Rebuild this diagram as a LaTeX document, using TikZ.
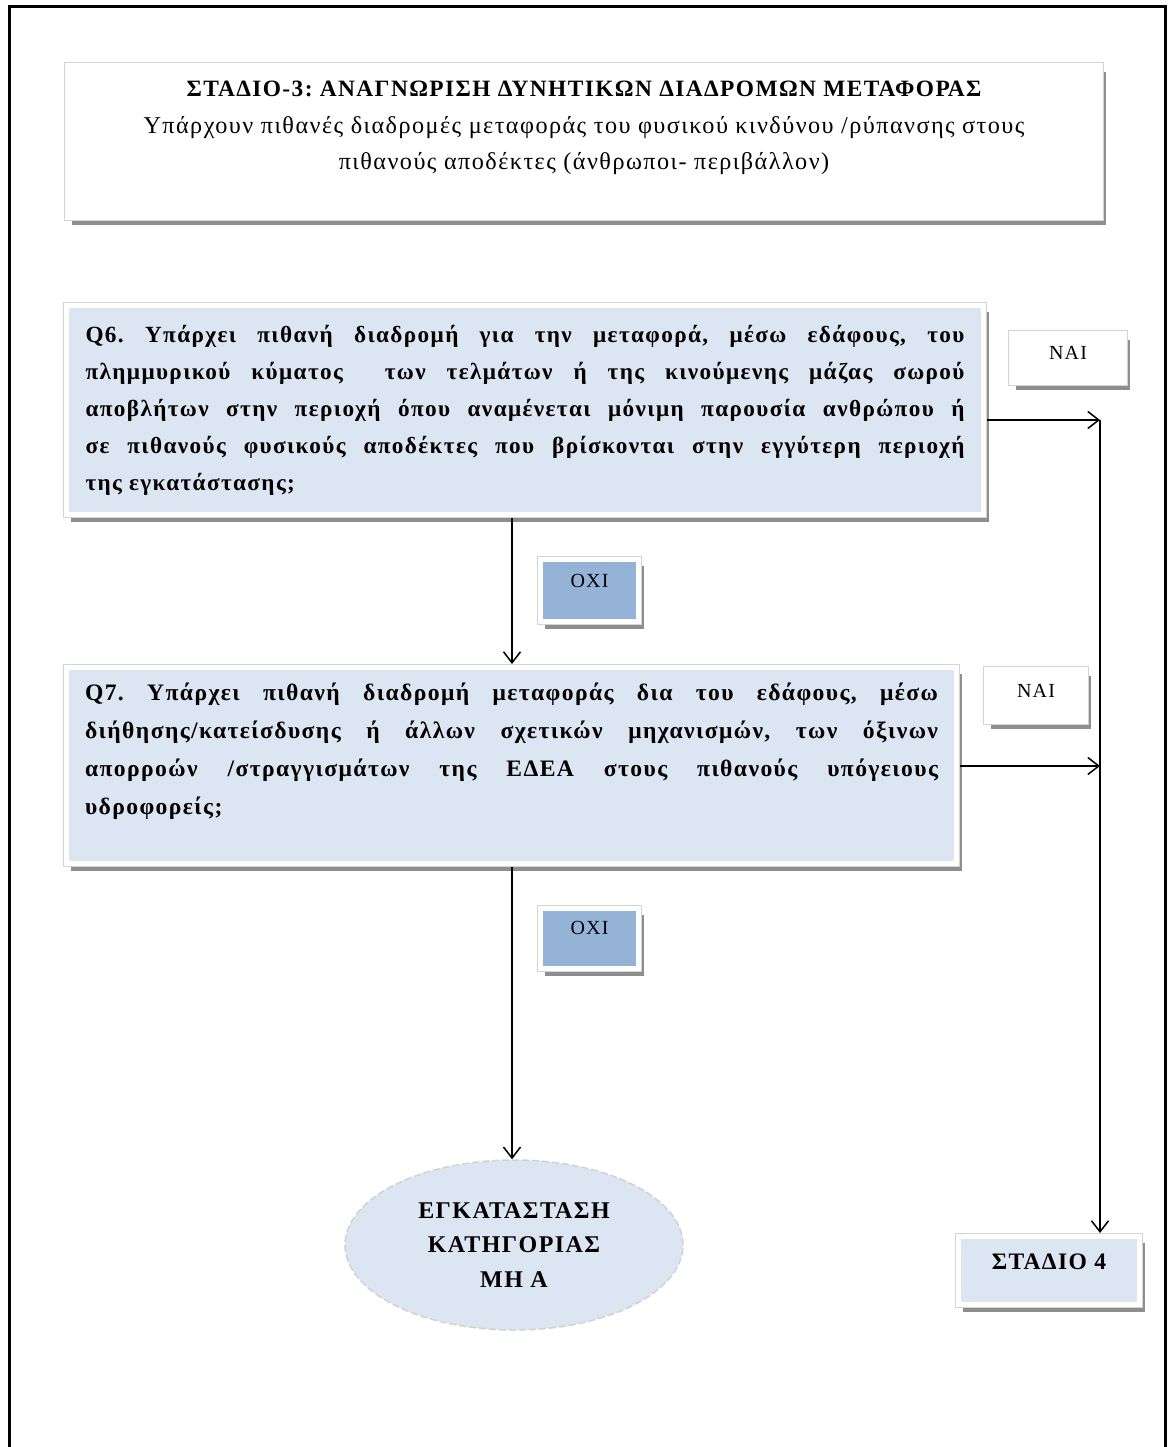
\documentclass[tikz,border=0pt]{standalone}
\usepackage{fontspec}
\setmainfont{Liberation Serif}
\newfontfamily\qfont{Liberation Serif}[LetterSpace=6]
\usetikzlibrary{arrows.meta,shapes.geometric,shadows}

\definecolor{paleblue}{HTML}{DCE6F2}
\definecolor{midblue}{HTML}{95B3D7}
\definecolor{edgegray}{HTML}{D4D4D4}
\definecolor{shadowgray}{HTML}{8E8E8E}

\frenchspacing
% one justified line of a question, and the unjustified last one
\newcommand\jline[1]{\hbox to \hsize{\strut #1}}
\newcommand\lastline[1]{\hbox to \hsize{\strut #1\hfil}}
\newcommand\lifted[2]{\raisebox{#1}{#2}}

\tikzset{
  card/.style={rectangle, inner sep=0pt, outer sep=3.25pt,
    line width=5pt, draw=white,
    drop shadow={shadow xshift=5pt, shadow yshift=-7pt, fill=shadowgray, opacity=1},
    preaction={draw=edgegray, line width=6.5pt}},
  flow/.style={line width=1.5pt, -{Straight Barb[length=11pt,width=17pt,line width=1.5pt]}},
  frame/.style={line width=3pt, black},
  answer/.style={font={\qfont\fontsize{20}{24}\selectfont}},
}

\begin{document}
\begin{tikzpicture}[x=1pt, y=-1pt]
\useasboundingbox (0,0) rectangle (1167,1447);

% page frame, open at the bottom
\draw[frame] (9,1470) |- (1165,7) -- (1165,1470);

% heading
\node[card, fill=white, minimum width=1033.5pt, minimum height=152.5pt] (title) at (584,141.5)
  {\parbox[c][152.5pt][t]{1033.5pt}{\centering\qfont\fontsize{24.2}{36.5}\selectfont
   \vspace*{6pt}\strut{\bfseries\fontsize{23.4}{36.5}\selectfont ΣΤΑΔΙΟ-3: ΑΝΑΓΝΩΡΙΣΗ ΔΥΝΗΤΙΚΩΝ ΔΙΑΔΡΟΜΩΝ ΜΕΤΑΦΟΡΑΣ}\\
   Υπάρχουν πιθανές διαδρομές μεταφοράς του φυσικού κινδύνου /ρύπανσης στους\\
   πιθανούς αποδέκτες (άνθρωποι- περιβάλλον)}};

% question Q6
\node[card, fill=paleblue, minimum width=917.5pt, minimum height=209.5pt] (q6) at (525,410)
  {\parbox[c][209.5pt][t]{879pt}{\qfont\bfseries\fontsize{23.2}{37}\selectfont
   \vspace*{11pt}
   \jline{Q6. Υπάρχει πιθανή διαδρομή για την μεταφορά, μέσω εδάφους, του}
   \jline{πλημμυρικού κύματος\ \ των τελμάτων ή της κινούμενης μάζας σωρού}
   \jline{αποβλήτων στην περιοχή όπου αναμένεται μόνιμη παρουσία ανθρώπου ή}
   \jline{σε πιθανούς φυσικούς αποδέκτες που βρίσκονται στην εγγύτερη περιοχή}
   \lastline{της εγκατάστασης;}}};

% question Q7
\node[card, fill=paleblue, minimum width=890.5pt, minimum height=196.5pt] (q7) at (511.5,765.5)
  {\parbox[c][196.5pt][t]{853pt}{\qfont\bfseries\fontsize{23.6}{38}\selectfont
   \vspace*{7pt}
   \jline{Q7. Υπάρχει πιθανή διαδρομή μεταφοράς δια του εδάφους, μέσω}
   \jline{διήθησης/κατείσδυσης ή άλλων σχετικών μηχανισμών, των όξινων}
   \jline{απορροών /στραγγισμάτων της ΕΔΕΑ στους πιθανούς υπόγειους}
   \lastline{υδροφορείς;}}};

% answers
\node[card, answer, fill=white, minimum width=113.5pt, minimum height=49.5pt] (yes1) at (1068,358)
  {\lifted{10pt}{ΝΑΙ}};
\node[card, answer, fill=white, minimum width=99.5pt, minimum height=52.5pt] (yes2) at (1036,695.5)
  {\lifted{10pt}{ΝΑΙ}};
\node[card, answer, fill=midblue, minimum width=98.5pt, minimum height=62.5pt] (no1) at (589.5,590.5)
  {\lifted{20pt}{ΟΧΙ}};
\node[card, answer, fill=midblue, minimum width=98.5pt, minimum height=60.5pt] (no2) at (589.5,938.5)
  {\lifted{22pt}{ΟΧΙ}};

% outcomes
\node[ellipse, fill=paleblue, draw=gray!35, line width=1.5pt, dash pattern=on 7pt off 3pt,
      inner sep=0pt, minimum width=338pt, minimum height=170pt, align=center,
      font={\qfont\bfseries\fontsize{24}{34.5}\selectfont}] (ell) at (514,1245)
  {ΕΓΚΑΤΑΣΤΑΣΗ\\ΚΑΤΗΓΟΡΙΑΣ\\ΜΗ Α};
\node[card, fill=paleblue, minimum width=181.5pt, minimum height=68.5pt,
      font={\qfont\bfseries\fontsize{23.6}{26}\selectfont}] (s4) at (1049,1270.5)
  {\lifted{18pt}{ΣΤΑΔΙΟ 4}};

% connectors
\coordinate (j1) at (1100,420);
\coordinate (j2) at (1100,766);
\coordinate (a1) at (512,0);
\draw[flow] (q6.east |- j1) -- (j1);
\draw[flow] (q7.east |- j2) -- (j2);
\draw[flow] (j1) -- (j1 |- s4.north);
\draw[flow] (q6.south -| a1) -- (q7.north -| a1);
\draw[flow] (q7.south -| a1) -- (a1 |- ell.north);
\end{tikzpicture}
\end{document}
